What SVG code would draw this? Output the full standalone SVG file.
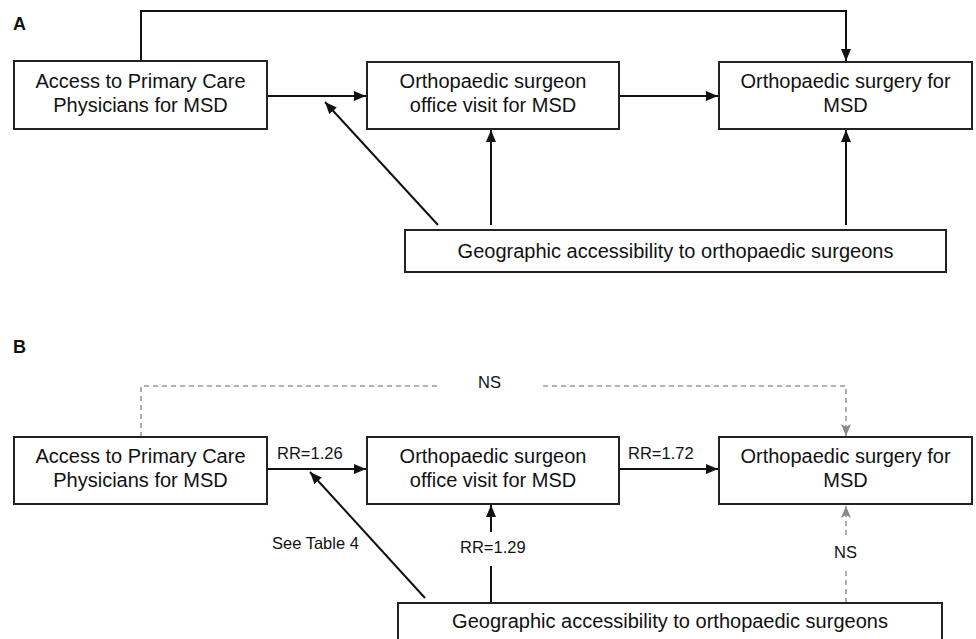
<svg xmlns="http://www.w3.org/2000/svg" width="976" height="639" viewBox="0 0 976 639">
<defs>
<marker id="ah" viewBox="0 0 12 10" refX="12" refY="5" markerWidth="12" markerHeight="10" markerUnits="userSpaceOnUse" orient="auto">
<path d="M0,0 L12,5 L0,10 Z" fill="#111"/>
</marker>
<marker id="ahg" viewBox="0 0 12 10" refX="12" refY="5" markerWidth="12" markerHeight="10" markerUnits="userSpaceOnUse" orient="auto">
<path d="M0,0 L12,5 L0,10 L3,5 Z" fill="#888"/>
</marker>
</defs>
<style>
.box{fill:#fff;stroke:#222;stroke-width:2}
.t{font-family:"Liberation Sans",Arial,sans-serif;font-size:20px;fill:#111;text-anchor:middle}
.l{font-family:"Liberation Sans",Arial,sans-serif;font-size:16.5px;fill:#111}
.p{font-family:"Liberation Sans",Arial,sans-serif;font-size:18px;font-weight:bold;fill:#111}
.c{fill:none;stroke:#111;stroke-width:2}
.d{fill:none;stroke:#999;stroke-width:1.6;stroke-dasharray:5 4}
</style>
<text class="p" x="13" y="30">A</text>
<text class="p" x="13" y="353">B</text>
<g id="connectors">
<path class="c" d="M141,61 V11 H846 V61" marker-end="url(#ah)"/>
<path class="c" d="M267,96 H366" marker-end="url(#ah)"/>
<path class="c" d="M619,96 H718" marker-end="url(#ah)"/>
<path class="c" d="M438,225 L325,102" marker-end="url(#ah)"/>
<path class="c" d="M491,225 V130" marker-end="url(#ah)"/>
<path class="c" d="M846,225 V130" marker-end="url(#ah)"/>
<path class="d" d="M141,437 V386 H438"/>
<path class="d" d="M543,386 H846 V436" marker-end="url(#ahg)"/>
<path class="c" d="M267,469 H366" marker-end="url(#ah)"/>
<path class="c" d="M619,469 H718" marker-end="url(#ah)"/>
<path class="c" d="M425,598 L310,472" marker-end="url(#ah)"/>
<path class="c" d="M491,603 V566"/>
<path class="c" d="M491,532 V505" marker-end="url(#ah)"/>
<path class="d" d="M846,603 V568"/>
<path class="d" d="M846,535 V506" marker-end="url(#ahg)"/>
<text class="l" x="478" y="388">NS</text>
<text class="l" x="277" y="459">RR=1.26</text>
<text class="l" x="628" y="459">RR=1.72</text>
<text class="l" x="272" y="549">See Table 4</text>
<text class="l" x="460" y="553">RR=1.29</text>
<text class="l" x="834" y="558">NS</text>
</g>
<g id="a-pcp">
<rect class="box" x="14" y="61" width="253" height="68"/>
<text class="t" x="140.5" y="88">Access to Primary Care</text>
<text class="t" x="140.5" y="112">Physicians for MSD</text>
</g>
<g id="a-visit">
<rect class="box" x="367" y="62" width="252" height="67"/>
<text class="t" x="493" y="88">Orthopaedic surgeon</text>
<text class="t" x="493" y="112">office visit for MSD</text>
</g>
<g id="a-surgery">
<rect class="box" x="719" y="62" width="253" height="67"/>
<text class="t" x="845.5" y="88">Orthopaedic surgery for</text>
<text class="t" x="845.5" y="112">MSD</text>
</g>
<g id="a-geo">
<rect class="box" x="405" y="230" width="541" height="42"/>
<text class="t" x="675.5" y="258">Geographic accessibility to orthopaedic surgeons</text>
</g>
<g id="b-pcp">
<rect class="box" x="14" y="437" width="253" height="67"/>
<text class="t" x="140.5" y="463">Access to Primary Care</text>
<text class="t" x="140.5" y="487">Physicians for MSD</text>
</g>
<g id="b-visit">
<rect class="box" x="367" y="437" width="252" height="67"/>
<text class="t" x="493" y="463">Orthopaedic surgeon</text>
<text class="t" x="493" y="487">office visit for MSD</text>
</g>
<g id="b-surgery">
<rect class="box" x="719" y="437" width="253" height="67"/>
<text class="t" x="845.5" y="463">Orthopaedic surgery for</text>
<text class="t" x="845.5" y="487">MSD</text>
</g>
<g id="b-geo">
<rect class="box" x="398" y="603" width="544" height="44"/>
<text class="t" x="670" y="628">Geographic accessibility to orthopaedic surgeons</text>
</g>
</svg>
